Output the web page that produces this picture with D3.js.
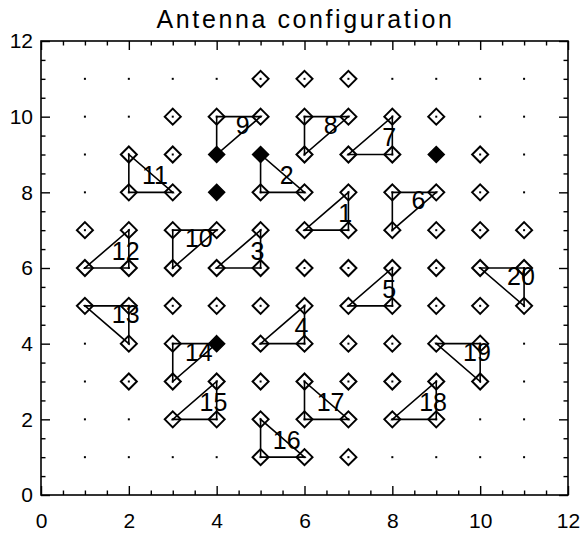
<!DOCTYPE html>
<html>
<head>
<meta charset="utf-8">
<script src="https://cdn.jsdelivr.net/npm/d3@7"></script>
<style>
  html, body { margin: 0; padding: 0; background: #fff; }
  svg { display: block; }
  text { font-family: "Liberation Sans", Arial, sans-serif; fill: #000; }
</style>
</head>
<body>
<svg id="chart" width="581" height="533"></svg>
<script>
// ---------------- data ----------------
const titleText = "Antenna configuration";
const xTickValues = [0, 2, 4, 6, 8, 10, 12];
const yTickValues = [0, 2, 4, 6, 8, 10, 12];
const minorTickValues = [0.5, 1, 1.5, 2.5, 3, 3.5, 4.5, 5, 5.5, 6.5, 7, 7.5, 8.5, 9, 9.5, 10.5, 11, 11.5];
// grid of possible antenna positions (small dots)
const gridPositions = [1, 2, 3, 4, 5, 6, 7, 8, 9, 10, 11];
// open diamonds: available antenna stations, row by row (y) with x lists
const openRows = [
  { y: 11, xs: [5, 6, 7] },
  { y: 10, xs: [3, 4, 5, 6, 7, 8, 9] },
  { y: 9,  xs: [2, 3, 6, 7, 8, 10] },
  { y: 8,  xs: [2, 3, 5, 6, 7, 8, 9, 10] },
  { y: 7,  xs: [1, 2, 3, 4, 5, 6, 7, 8, 9, 10, 11] },
  { y: 6,  xs: [1, 2, 3, 4, 5, 6, 7, 8, 9, 10, 11] },
  { y: 5,  xs: [1, 2, 3, 4, 5, 6, 7, 8, 9, 10, 11] },
  { y: 4,  xs: [2, 3, 5, 6, 7, 8, 9, 10] },
  { y: 3,  xs: [2, 3, 4, 5, 6, 7, 8, 9, 10] },
  { y: 2,  xs: [3, 4, 5, 6, 7, 8, 9] },
  { y: 1,  xs: [5, 6, 7] }
];
// filled diamonds
const filledAntennas = [[4, 9], [5, 9], [9, 9], [4, 8], [4, 4]];
// numbered triangles (antenna triplets)
const triangleIds = [1, 2, 3, 4, 5, 6, 7, 8, 9, 10, 11, 12, 13, 14, 15, 16, 17, 18, 19, 20];
const triangleVertices = [
  [[6, 7], [7, 7], [7, 8]],
  [[5, 9], [5, 8], [6, 8]],
  [[4, 6], [5, 6], [5, 7]],
  [[5, 4], [6, 4], [6, 5]],
  [[7, 5], [8, 5], [8, 6]],
  [[8, 8], [9, 8], [8, 7]],
  [[7, 9], [8, 9], [8, 10]],
  [[6, 10], [7, 10], [6, 9]],
  [[4, 10], [5, 10], [4, 9]],
  [[3, 7], [4, 7], [3, 6]],
  [[2, 9], [2, 8], [3, 8]],
  [[1, 6], [2, 6], [2, 7]],
  [[1, 5], [2, 5], [2, 4]],
  [[3, 4], [4, 4], [3, 3]],
  [[3, 2], [4, 2], [4, 3]],
  [[5, 2], [5, 1], [6, 1]],
  [[6, 3], [6, 2], [7, 2]],
  [[8, 2], [9, 2], [9, 3]],
  [[9, 4], [10, 4], [10, 3]],
  [[10, 6], [11, 6], [11, 5]]
];

// ---------------- layout ----------------
const svg = d3.select("#chart");
const plotLeft = 41, plotRight = 568, plotTop = 41, plotBottom = 495;
const x = d3.scaleLinear().domain([0, 12]).range([plotLeft, plotRight]);
const y = d3.scaleLinear().domain([0, 12]).range([plotBottom, plotTop]);
const majorLen = 9, minorLen = 4.5;

// title
svg.append("text")
  .attr("x", (plotLeft + plotRight) / 2 + 1)
  .attr("y", 28)
  .attr("text-anchor", "middle")
  .style("font-size", "25px")
  .style("letter-spacing", "2.6px")
  .text(titleText);

// frame
svg.append("rect")
  .attr("x", plotLeft).attr("y", plotTop)
  .attr("width", plotRight - plotLeft).attr("height", plotBottom - plotTop)
  .attr("fill", "none").attr("stroke", "#000").attr("stroke-width", 1.6);

function styleAxis(g) {
  g.select(".domain").remove();
  g.selectAll(".tick line").attr("stroke", "#000").attr("stroke-width", 1.4);
  g.selectAll("text").style("font-size", "21px").attr("fill", "#000").style("font-family", "'Liberation Sans', Arial, sans-serif");
}

// bottom axis (major with labels, minor without)
svg.append("g").attr("transform", `translate(0,${plotBottom})`)
  .call(d3.axisBottom(x).tickValues(xTickValues).tickSize(-majorLen).tickPadding(18).tickFormat(d3.format("d")))
  .call(styleAxis);
svg.append("g").attr("transform", `translate(0,${plotBottom})`)
  .call(d3.axisBottom(x).tickValues(minorTickValues).tickSize(-minorLen).tickFormat(""))
  .call(styleAxis);
// top axis
svg.append("g").attr("transform", `translate(0,${plotTop})`)
  .call(d3.axisTop(x).tickValues(xTickValues).tickSize(-majorLen).tickFormat(""))
  .call(styleAxis);
svg.append("g").attr("transform", `translate(0,${plotTop})`)
  .call(d3.axisTop(x).tickValues(minorTickValues).tickSize(-minorLen).tickFormat(""))
  .call(styleAxis);
// left axis
svg.append("g").attr("transform", `translate(${plotLeft},0)`)
  .call(d3.axisLeft(y).tickValues(yTickValues).tickSize(-majorLen).tickPadding(8).tickFormat(d3.format("d")))
  .call(styleAxis);
svg.append("g").attr("transform", `translate(${plotLeft},0)`)
  .call(d3.axisLeft(y).tickValues(minorTickValues).tickSize(-minorLen).tickFormat(""))
  .call(styleAxis);
// right axis
svg.append("g").attr("transform", `translate(${plotRight},0)`)
  .call(d3.axisRight(y).tickValues(yTickValues).tickSize(-majorLen).tickFormat(""))
  .call(styleAxis);
svg.append("g").attr("transform", `translate(${plotRight},0)`)
  .call(d3.axisRight(y).tickValues(minorTickValues).tickSize(-minorLen).tickFormat(""))
  .call(styleAxis);

// grid dots
const gridPts = d3.cross(gridPositions, gridPositions);
svg.append("g").selectAll("rect").data(gridPts).join("rect")
  .attr("x", d => x(d[0]) - 1).attr("y", d => y(d[1]) - 1)
  .attr("width", 2).attr("height", 2).attr("fill", "#000");

// triangle lines
const tri = triangleIds.map((id, i) => ({ id, v: triangleVertices[i] }));
const line = d3.line().x(d => x(d[0])).y(d => y(d[1]));
svg.append("g").selectAll("path").data(tri).join("path")
  .attr("d", d => line(d.v) + "Z")
  .attr("fill", "none").attr("stroke", "#000").attr("stroke-width", 1.6)
  .attr("stroke-linejoin", "miter");

// diamonds
const diamond = "M0,-8L8,0L0,8L-8,0Z";
const openPts = openRows.flatMap(r => r.xs.map(xv => [xv, r.y]));
svg.append("g").selectAll("path").data(openPts).join("path")
  .attr("transform", d => `translate(${x(d[0])},${y(d[1])})`)
  .attr("d", diamond)
  .attr("fill", "none").attr("stroke", "#000").attr("stroke-width", 2);
svg.append("g").selectAll("path").data(filledAntennas).join("path")
  .attr("transform", d => `translate(${x(d[0])},${y(d[1])})`)
  .attr("d", diamond)
  .attr("fill", "#000").attr("stroke", "#000").attr("stroke-width", 1.5);

// triangle labels at centroid
svg.append("g").selectAll("text").data(tri).join("text")
  .attr("x", d => x(d3.mean(d.v, p => p[0])) + 11.5)
  .attr("y", d => y(d3.mean(d.v, p => p[1])) + 4.5)
  .attr("text-anchor", "middle")
  .style("font-size", "25px")
  .text(d => d.id);
</script>
</body>
</html>
